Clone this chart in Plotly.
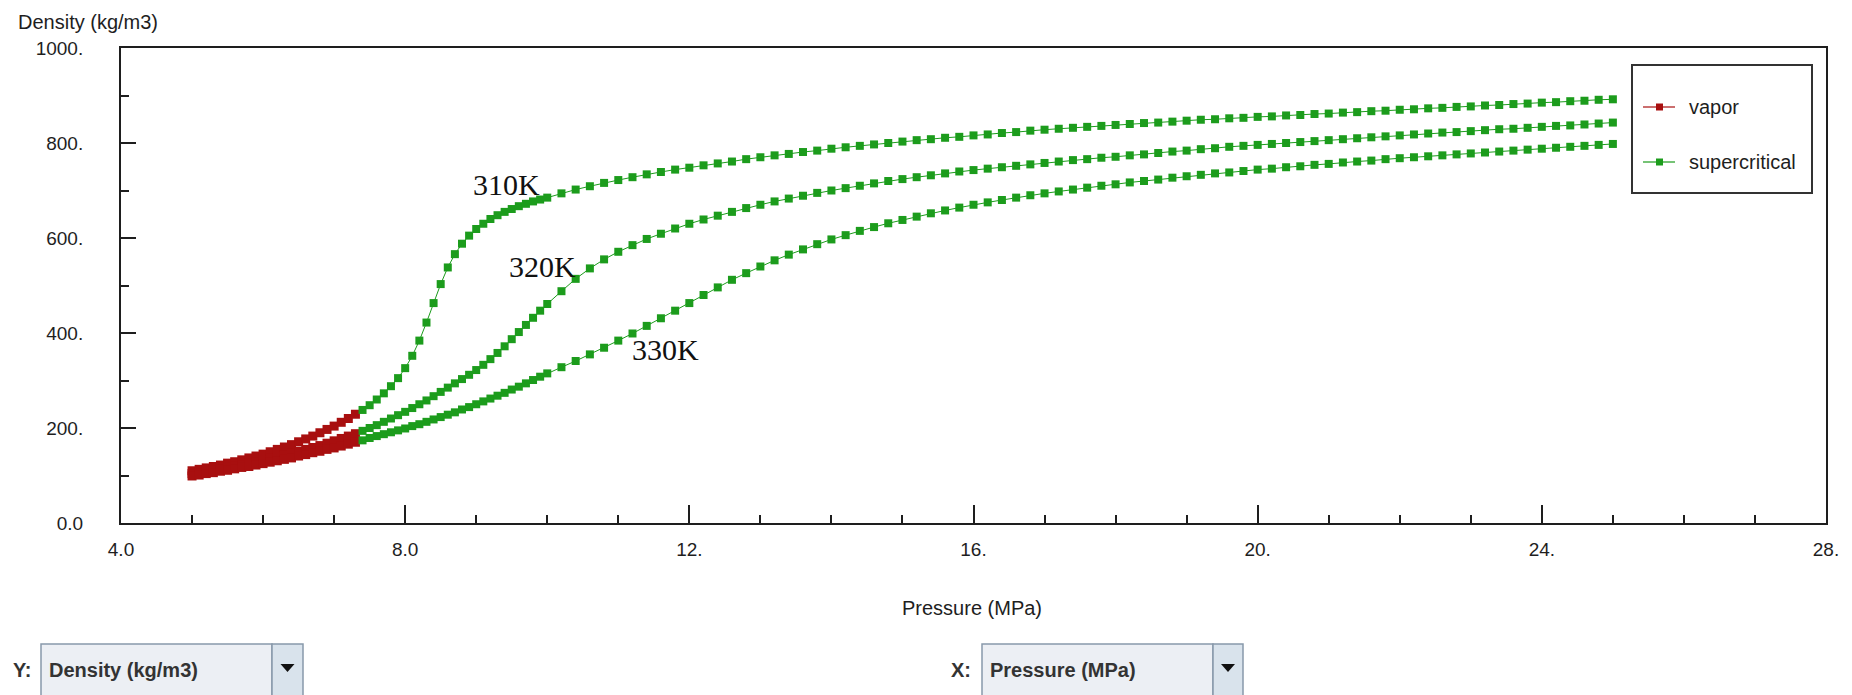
import plotly.graph_objects as go

# ---------------- data ----------------
P_VAPOR = [5.0, 5.1, 5.2, 5.3, 5.4, 5.5, 5.6, 5.7, 5.8, 5.9, 6.0, 6.1,
           6.2, 6.3, 6.4, 6.5, 6.6, 6.7, 6.8, 6.9, 7.0, 7.1, 7.2, 7.3]

P_SUPER = [7.4, 7.5, 7.6, 7.7, 7.8, 7.9, 8.0, 8.1, 8.2, 8.3, 8.4, 8.5, 8.6,
           8.7, 8.8, 8.9, 9.0, 9.1, 9.2, 9.3, 9.4, 9.5, 9.6, 9.7, 9.8, 9.9, 10.0,
           10.2, 10.4, 10.6, 10.8, 11.0, 11.2, 11.4, 11.6, 11.8, 12.0,
           12.2, 12.4, 12.6, 12.8, 13.0, 13.2, 13.4, 13.6, 13.8, 14.0,
           14.2, 14.4, 14.6, 14.8, 15.0, 15.2, 15.4, 15.6, 15.8, 16.0,
           16.2, 16.4, 16.6, 16.8, 17.0, 17.2, 17.4, 17.6, 17.8, 18.0,
           18.2, 18.4, 18.6, 18.8, 19.0, 19.2, 19.4, 19.6, 19.8, 20.0,
           20.2, 20.4, 20.6, 20.8, 21.0, 21.2, 21.4, 21.6, 21.8, 22.0,
           22.2, 22.4, 22.6, 22.8, 23.0, 23.2, 23.4, 23.6, 23.8, 24.0,
           24.2, 24.4, 24.6, 24.8, 25.0]

# density (kg/m3), vapor part
RHO_310_VAPOR = [110, 113, 116, 119, 122, 126, 129, 133, 137, 141, 145, 150,
                 155, 160, 165, 171, 177, 183, 190, 197, 204, 212, 220, 229]
RHO_320_VAPOR = [104, 106, 109, 112, 114, 117, 120, 123, 126, 129, 133, 136,
                 140, 143, 147, 151, 155, 159, 163, 168, 173, 178, 183, 188]
RHO_330_VAPOR = [99, 101, 104, 106, 109, 111, 114, 117, 119, 122, 125, 128,
                 131, 134, 137, 141, 144, 148, 151, 155, 158, 162, 166, 170]

# density (kg/m3), supercritical part
RHO_310_SUPER = [238, 248, 260, 273, 288, 305, 326, 352, 384, 422, 463, 503, 538,
                 566, 588, 605, 619, 630, 640, 648, 655, 661, 667, 672, 677, 681, 685,
                 694, 702, 709, 716, 722, 728, 734, 739, 744, 748,
                 753, 757, 761, 766, 770, 774, 777, 781, 784, 788,
                 791, 794, 797, 800, 803, 806, 808, 811, 813, 816,
                 818, 821, 823, 826, 828, 830, 832, 834, 836, 838,
                 840, 842, 843, 845, 847, 849, 850, 852, 853, 855,
                 856, 858, 859, 861, 862, 864, 865, 867, 868, 870,
                 871, 873, 874, 876, 877, 879, 880, 882, 883, 885,
                 886, 888, 889, 891, 892]
RHO_320_SUPER = [194, 200, 206, 213, 220, 227, 234, 242, 250, 258, 267, 276, 285,
                 294, 303, 312, 322, 333, 345, 358, 372, 387, 402, 417, 432, 447, 461,
                 488, 514, 536, 555, 571, 585, 598, 609, 620, 630,
                 639, 647, 655, 663, 670, 677, 683, 689, 695, 700,
                 705, 710, 715, 720, 724, 728, 732, 736, 740, 743,
                 746, 749, 752, 755, 758, 761, 764, 766, 769, 771,
                 774, 776, 779, 782, 784, 787, 789, 792, 794, 796,
                 798, 800, 802, 804, 806, 808, 810, 812, 814, 816,
                 818, 820, 822, 823, 825, 827, 829, 830, 832, 834,
                 836, 837, 839, 841, 843]
RHO_330_SUPER = [174, 179, 183, 187, 191, 195, 199, 204, 208, 213, 218, 223, 228,
                 233, 239, 244, 250, 256, 262, 268, 274, 281, 287, 294, 301, 308, 315,
                 328, 341, 355, 369, 384, 399, 415, 431, 447, 463,
                 480, 496, 512, 526, 540, 553, 565, 576, 587, 597,
                 606, 615, 623, 631, 638, 645, 652, 658, 664, 670,
                 675, 680, 685, 690, 694, 698, 702, 706, 710, 713,
                 717, 720, 723, 727, 730, 733, 736, 738, 741, 744,
                 746, 749, 751, 754, 756, 759, 761, 763, 766, 768,
                 770, 772, 774, 776, 778, 780, 782, 784, 786, 788,
                 790, 792, 794, 796, 798]

TEMPERATURES = ["310K", "320K", "330K"]
PHASES = ["vapor", "supercritical"]

X_TICKS = [4, 8, 12, 16, 20, 24, 28]
X_TICK_LABELS = ["4.0", "8.0", "12.", "16.", "20.", "24.", "28."]
Y_TICKS = [0, 200, 400, 600, 800, 1000]
Y_TICK_LABELS = ["0.0", "200.", "400.", "600.", "800.", "1000."]

for _v in (RHO_310_VAPOR, RHO_320_VAPOR, RHO_330_VAPOR):
    assert len(_v) == len(P_VAPOR)
for _s in (RHO_310_SUPER, RHO_320_SUPER, RHO_330_SUPER):
    assert len(_s) == len(P_SUPER)

# ---------------- styling ----------------
PAGE_W, PAGE_H = 1852, 695
OFF = 8                      # default body margin of the html page
W, H = PAGE_W - OFF, PAGE_H - OFF
L, R, T, B = 121, 1826, 48, 523   # plot area in page pixels


def px(x):
    return (x - L) / (R - L)


def py(y):
    return (B - y) / (B - T)


FONT = "Liberation Sans, Arial, sans-serif"
AXC = "#1e1e1e"
RED = "#a80f0f"
GREEN = "#1c9c1c"
TXT = 20

fig = go.Figure()

vapor_sets = [RHO_310_VAPOR, RHO_320_VAPOR, RHO_330_VAPOR]
super_sets = [RHO_310_SUPER, RHO_320_SUPER, RHO_330_SUPER]
for i, temp in enumerate(TEMPERATURES):
    fig.add_trace(go.Scatter(
        x=P_VAPOR, y=vapor_sets[i], mode="lines+markers", name=PHASES[0],
        legendgroup=PHASES[0], showlegend=False,
        line=dict(color=RED, width=1),
        marker=dict(symbol="square", size=9, color=RED)))
    fig.add_trace(go.Scatter(
        x=P_SUPER, y=super_sets[i], mode="lines+markers", name=PHASES[1],
        legendgroup=PHASES[1], showlegend=False,
        line=dict(color=GREEN, width=1),
        marker=dict(symbol="square", size=8, color=GREEN)))

shapes = []
annotations = []

# temperature labels
for txt, xv, yv in [("310K", 9.43, 712), ("320K", 9.94, 539), ("330K", 11.66, 366)]:
    annotations.append(dict(x=xv, y=yv, xref="x", yref="y", text=txt, showarrow=False,
                            xanchor="center", yanchor="middle",
                            font=dict(family="Liberation Serif, Times New Roman, serif",
                                      size=30, color="#111")))

# axis titles
annotations.append(dict(x=px(16), y=py(22), xref="paper", yref="paper",
                        text="Density (kg/m3)", showarrow=False, xanchor="left",
                        yanchor="middle", font=dict(family=FONT, size=TXT, color=AXC)))
annotations.append(dict(x=px(972), y=py(608), xref="paper", yref="paper",
                        text="Pressure (MPa)", showarrow=False, xanchor="center",
                        yanchor="middle", font=dict(family=FONT, size=TXT, color=AXC)))

# custom legend (box, symbols, texts)
shapes.append(dict(type="rect", xref="paper", yref="paper",
                   x0=px(1632), x1=px(1812), y0=py(193), y1=py(65),
                   line=dict(color="#333", width=2), fillcolor="white", layer="above"))
for yc, col, name in [(107, RED, PHASES[0]), (162, GREEN, PHASES[1])]:
    shapes.append(dict(type="line", xref="paper", yref="paper",
                       x0=px(1643), x1=px(1675), y0=py(yc), y1=py(yc),
                       line=dict(color=col, width=1.2), layer="above"))
    shapes.append(dict(type="rect", xref="paper", yref="paper",
                       x0=px(1656), x1=px(1663), y0=py(yc + 3.5), y1=py(yc - 3.5),
                       line=dict(color=col, width=0), fillcolor=col, layer="above"))
    annotations.append(dict(x=px(1687), y=py(yc), xref="paper", yref="paper",
                            text=name, showarrow=False, xanchor="left", yanchor="middle",
                            font=dict(family=FONT, size=TXT, color=AXC)))

# bottom selector widgets
for lab, lx, bx0, bsep, bx1, txt in [("Y:", 22, 41, 272, 303, "Density (kg/m3)"),
                                     ("X:", 961, 982, 1213, 1243, "Pressure (MPa)")]:
    annotations.append(dict(x=px(lx), y=py(670), xref="paper", yref="paper", text="<b>%s</b>" % lab,
                            showarrow=False, xanchor="center", yanchor="middle",
                            font=dict(family=FONT, size=TXT, color="#333")))
    shapes.append(dict(type="rect", xref="paper", yref="paper",
                       x0=px(bx0), x1=px(bsep), y0=py(705), y1=py(644),
                       line=dict(color="#8899aa", width=1.5), fillcolor="#eceff4", layer="above"))
    shapes.append(dict(type="rect", xref="paper", yref="paper",
                       x0=px(bsep), x1=px(bx1), y0=py(705), y1=py(644),
                       line=dict(color="#8899aa", width=1.5), fillcolor="#d9e3ec", layer="above"))
    ax = (bsep + bx1) / 2
    shapes.append(dict(type="path", xref="paper", yref="paper",
                       path="M %f %f L %f %f L %f %f Z" % (px(ax - 7), py(664), px(ax + 7), py(664),
                                                          px(ax), py(672)),
                       line=dict(color="#111", width=0), fillcolor="#111", layer="above"))
    annotations.append(dict(x=px(bx0 + 6), y=py(670), xref="paper", yref="paper",
                            text="<b>%s</b>" % txt, showarrow=False, xanchor="left",
                            yanchor="middle", font=dict(family=FONT, size=TXT, color="#333")))

axis_common = dict(
    showline=True, linecolor=AXC, linewidth=2, mirror=True,
    showgrid=False, zeroline=False, ticks="inside", tickcolor=AXC, tickwidth=1.5,
    tickmode="array", tickfont=dict(family=FONT, size=19, color=AXC),
)

fig.update_layout(
    width=W, height=H,
    margin=dict(l=L - OFF, r=PAGE_W - R, t=T - OFF, b=PAGE_H - B, pad=0),
    paper_bgcolor="white", plot_bgcolor="white",
    showlegend=False,
    xaxis=dict(range=[4, 28], tickvals=X_TICKS, ticktext=X_TICK_LABELS, ticklen=18,
               ticklabelstandoff=8,
               minor=dict(tickmode="linear", tick0=4, dtick=1, ticks="inside", ticklen=8,
                          tickwidth=1.5, tickcolor=AXC, showgrid=False),
               **axis_common),
    yaxis=dict(range=[0, 1000], tickvals=Y_TICKS, ticktext=Y_TICK_LABELS, ticklen=15,
               ticklabelstandoff=32,
               minor=dict(tickmode="linear", tick0=0, dtick=100, ticks="inside", ticklen=8,
                          tickwidth=1.5, tickcolor=AXC, showgrid=False),
               **axis_common),
    shapes=shapes,
    annotations=annotations,
)

fig.write_html("out.html")
